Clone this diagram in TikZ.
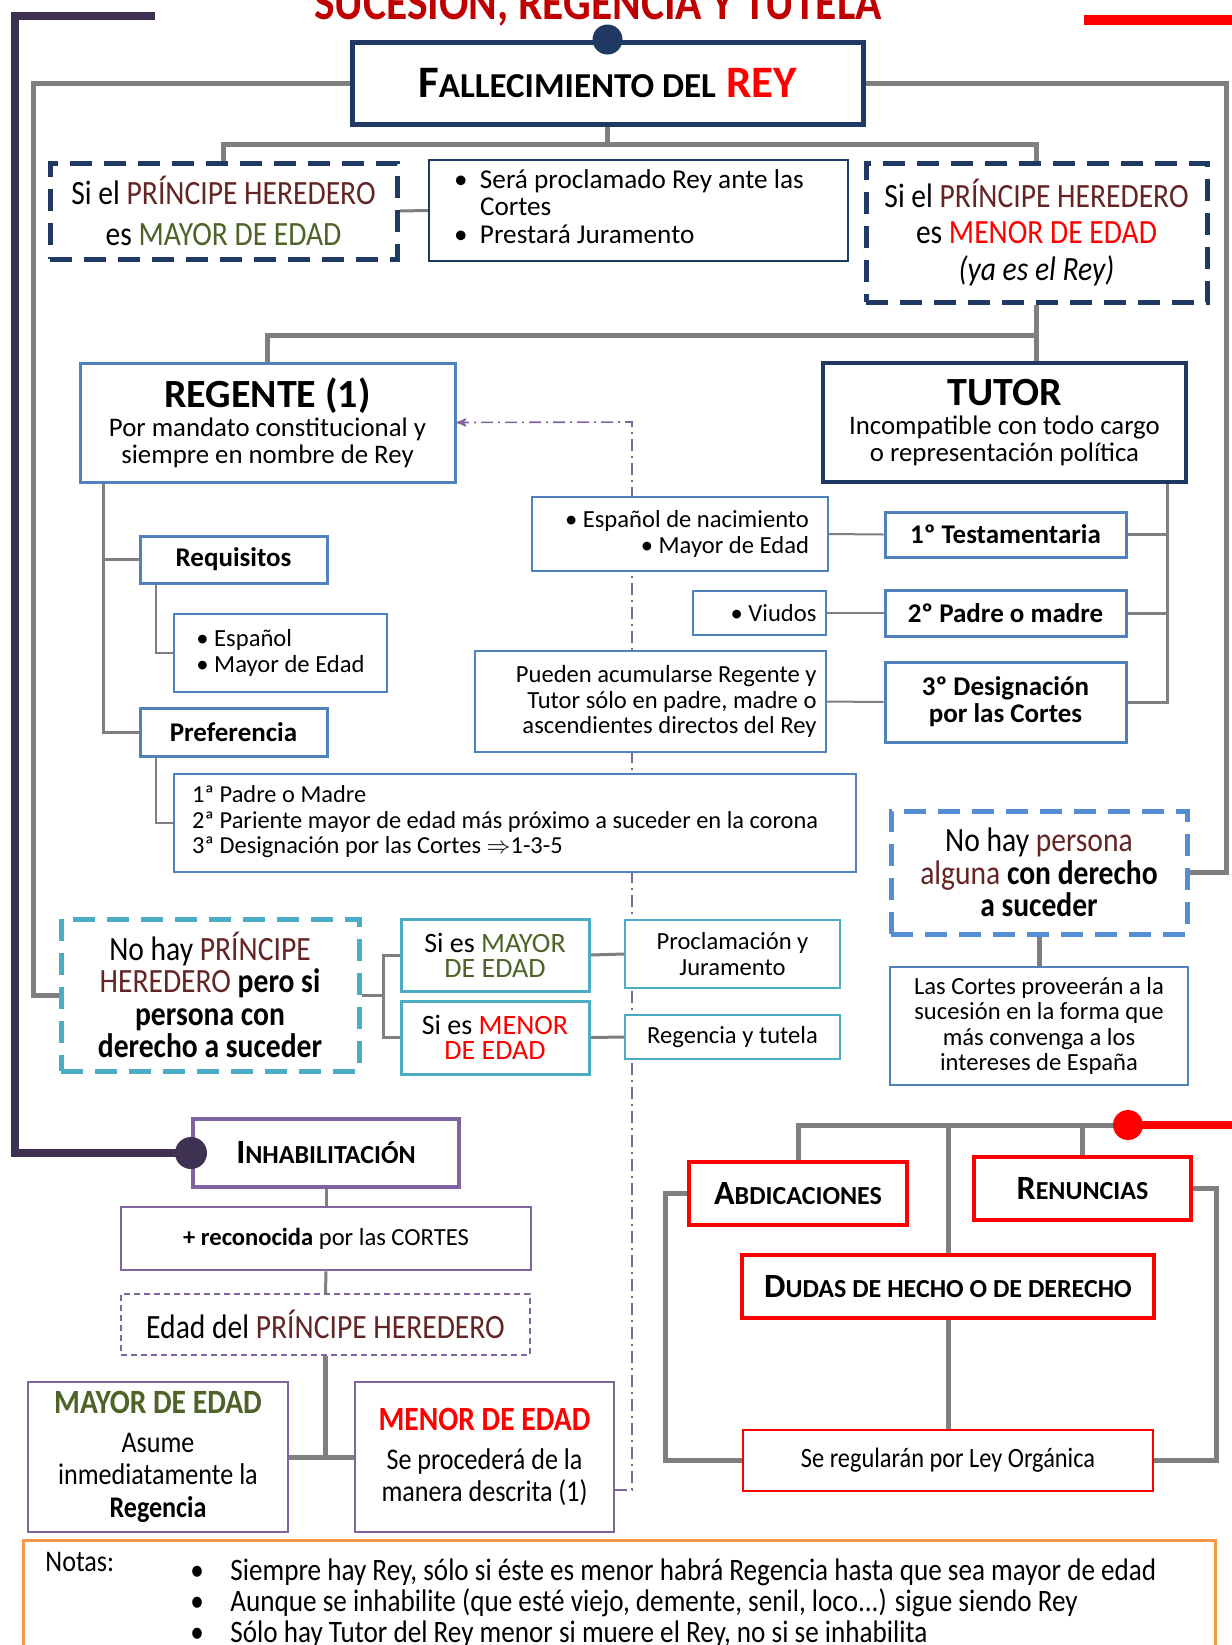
\documentclass[tikz,border=0pt]{standalone}
\usepackage{fontspec}
\setmainfont{Carlito}
\newfontfamily\narrow[FakeStretch=0.87]{Carlito}
\usepackage{xcolor}
\usetikzlibrary{arrows,backgrounds}

\definecolor{navyc}{HTML}{1F3864}
\definecolor{boxblue}{HTML}{4F81BD}
\definecolor{tealc}{HTML}{4BACC6}
\definecolor{heredc}{HTML}{632423}
\definecolor{olivec}{HTML}{4F6228}
\definecolor{purplec}{HTML}{8064A2}
\definecolor{inhcol}{HTML}{3F3151}
\definecolor{greyc}{HTML}{7F7F7F}
\definecolor{orangec}{HTML}{F79646}
\definecolor{dashblue}{HTML}{558ED5}
\definecolor{titlered}{HTML}{C00000}
\definecolor{redc}{HTML}{FF0000}

\newcommand{\smcp}[2]{{\fontsize{#1}{#1}\selectfont #2}}
\newcommand{\princ}{\textcolor{heredc}{PRÍNCIPE HEREDERO}}
\newcommand{\fsmall}{\fontsize{12.3}{12.8}\selectfont}
\newcommand{\fsub}{\fontsize{13.4}{13.2}\selectfont}
\newcommand{\fbold}{\fontsize{13.5}{13.6}\selectfont\bfseries}

\begin{document}
\begin{tikzpicture}[x=0.5pt,y=-0.5pt,>=stealth']
  \tikzstyle{box}=[draw,fill=white,align=center,inner sep=0pt,font=\fsmall]
  \tikzstyle{navydash}=[box,draw=navyc,line width=2.5pt,dash pattern=on 11pt off 6pt]
  \tikzstyle{bluebox}=[box,draw=boxblue,line width=1.5pt]
  \tikzstyle{thinblue}=[box,draw=boxblue,line width=0.8pt]
  \tikzstyle{redbox}=[box,draw=redc,line width=2pt,font=\fontsize{17}{18}\selectfont\bfseries]
  \tikzstyle{gthick}=[draw=greyc,line width=2.5pt]
  \tikzstyle{gmid}=[draw=greyc,line width=1.5pt]
  \tikzstyle{gthin}=[draw=greyc,line width=1pt]
  \tikzset{sz/.style 2 args={minimum width=#1pt,minimum height=#2pt}}

  \useasboundingbox (0,0) rectangle (1232,1645);

  \node[anchor=base,font=\narrow\fontsize{25}{26}\selectfont\bfseries,text=titlered] (titulo) at (598,19) {SUCESIÓN, REGENCIA Y TUTELA};

  \node[box,draw=navyc,line width=2.5pt,sz={255.5}{41},font=\fontsize{22.5}{24}\selectfont\bfseries] (fall) at (607.5,83) {F\smcp{17.5}{ALLECIMIENTO DEL} \textcolor{redc}{REY}};
  \node[navydash,sz={173.5}{48},font=\narrow\fontsize{17}{20.5}\selectfont] (pmayor) at (223.5,211) {Si el \princ\\es \textcolor{olivec}{MAYOR DE EDAD}};
  \node[box,draw=navyc,line width=1pt,sz={209.5}{50.5},align=flush left,text width=184.5pt,font=\fontsize{13.6}{13.6}\selectfont] (jura) at (638.5,210.5) {\begin{tabular}{@{}p{13pt}@{}l@{}}\textbullet & Será proclamado Rey ante las\\ & Cortes\\ \textbullet & Prestará Juramento\end{tabular}};
  \node[navydash,sz={170.5}{69.5},font=\narrow\fontsize{17}{18.4}\selectfont] (pmenor) at (1036.5,232.5) {Si el \princ\\es \textcolor{redc}{MENOR DE EDAD}\\\textit{(ya es el Rey)}};

  \node[bluebox,sz={187.5}{59.5},font=\fsub] (regente) at (267.5,422.5) {{\fontsize{20}{22}\selectfont\bfseries REGENTE (1)}\\[1.5pt]Por mandato constitucional y\\siempre en nombre de Rey};
  \node[box,draw=navyc,line width=2pt,sz={181.5}{59.5},font=\fsub] (tutor) at (1004.5,422.5) {{\fontsize{20}{22}\selectfont\bfseries TUTOR}\\[1.5pt]Incompatible con todo cargo\\o representación política};

  \node[bluebox,sz={93.5}{23.5},font=\fbold] (requis) at (233.5,559.5) {Requisitos};
  \node[thinblue,sz={106.5}{39},align=flush left] (esp) at (280.5,653) {\textbullet\ Español\\\textbullet\ Mayor de Edad};
  \node[bluebox,sz={93.5}{24},font=\fbold] (prefer) at (233.5,732) {Preferencia};
  \node[thinblue,sz={341}{49},align=flush left,text width=323pt,font=\fontsize{12.2}{12.9}\selectfont] (preflist) at (515,823) {\begin{tabular}{@{}l@{}}1ª Padre o Madre\\2ª Pariente mayor de edad más próximo a suceder en la corona\\3ª Designación por las Cortes $\Rightarrow$1-3-5\end{tabular}};

  \node[thinblue,sz={148}{37},align=flush right,text width=129pt] (espnac) at (680,534) {\textbullet\ Español de nacimiento\\\textbullet\ Mayor de Edad};
  \node[thinblue,sz={66.5}{22},align=flush right,text width=57pt] (viudos) at (759.5,613) {\textbullet\ Viudos};
  \node[thinblue,sz={175.5}{50.5},align=flush right,text width=166pt] (pueden) at (650.5,701.5) {Pueden acumularse Regente y\\Tutor sólo en padre, madre o\\ascendientes directos del Rey};
  \node[bluebox,sz={120.5}{22.5},font=\fbold] (testam) at (1005.5,534.5) {1º Testamentaria};
  \node[bluebox,sz={120.5}{23},font=\fbold] (padre) at (1005.5,613) {2º Padre o madre};
  \node[bluebox,sz={120.5}{40},font=\fbold] (desig) at (1005.5,702) {3º Designación\\por las Cortes};

  \node[box,draw=tealc,line width=2.5pt,dash pattern=on 11pt off 6pt,sz={149}{76},font=\narrow\fontsize{17}{16.3}\selectfont] (noprin) at (210,995) {No hay \textcolor{heredc}{PRÍNCIPE}\\\textcolor{heredc}{HEREDERO} \textbf{pero si}\\\textbf{persona con}\\\textbf{derecho a suceder}};
  \node[box,draw=tealc,line width=1.5pt,sz={94}{36},font=\fontsize{14}{12.6}\selectfont] (simayor) at (495,955) {Si es \textcolor{olivec}{MAYOR}\\\textcolor{olivec}{DE EDAD}};
  \node[box,draw=tealc,line width=1.5pt,sz={94}{36.5},font=\fontsize{14}{12.6}\selectfont] (simenor) at (495,1037.5) {Si es \textcolor{redc}{MENOR}\\\textcolor{redc}{DE EDAD}};
  \node[box,draw=tealc,line width=1pt,sz={107.5}{34}] (proclam) at (732.5,954) {Proclamación y\\Juramento};
  \node[box,draw=tealc,line width=1pt,sz={107.5}{22}] (regtut) at (732.5,1037) {Regencia y tutela};

  \node[box,draw=dashblue,line width=2.5pt,dash pattern=on 11pt off 6pt,sz={148}{61.5},font=\narrow\fontsize{17}{16.3}\selectfont] (nopers) at (1039,872.5) {No hay \textcolor{heredc}{persona}\\\textcolor{heredc}{alguna} \textbf{con derecho}\\\textbf{a suceder}};
  \node[thinblue,sz={149}{59}] (cortes) at (1039,1026) {Las Cortes proveerán a la\\sucesión en la forma que\\más convenga a los\\intereses de España};

  \node[box,draw=purplec,line width=2pt,sz={133}{34},font=\fontsize{17}{18}\selectfont\bfseries] (inhab) at (326,1153) {I\smcp{13}{NHABILITACIÓN}};
  \node[box,draw=purplec,line width=1.3pt,sz={205}{31.5}] (recon) at (326,1238.5) {\textbf{+ reconocida} por las CORTES};
  \node[box,draw=purplec,line width=1pt,dash pattern=on 3pt off 2pt,sz={204.5}{30.5},font=\narrow\fontsize{17}{18}\selectfont] (edadp) at (325.5,1324.5) {Edad del \princ};
  \node[box,draw=purplec,line width=1pt,sz={130}{75},font=\narrow\fontsize{15}{16.3}\selectfont] (mayored) at (158,1457) {{\fontsize{17}{18}\selectfont\bfseries\textcolor{olivec}{MAYOR DE EDAD}}\\[3pt]Asume\\inmediatamente la\\\textbf{Regencia}};
  \node[box,draw=purplec,line width=1pt,sz={129.5}{75},font=\narrow\fontsize{15}{16.3}\selectfont] (menored) at (484.5,1457) {{\fontsize{17}{18}\selectfont\bfseries\textcolor{redc}{MENOR DE EDAD}}\\[3pt]Se procederá de la\\manera descrita (1)};

  \node[redbox,sz={109}{31.5}] (abdic) at (798,1193.5) {A\smcp{13}{BDICACIONES}};
  \node[redbox,sz={108.5}{31.5}] (renun) at (1082.5,1188.5) {R\smcp{13}{ENUNCIAS}};
  \node[redbox,sz={206}{31.5}] (dudas) at (948,1286.5) {D\smcp{13}{UDAS DE HECHO O DE DERECHO}};
  \node[box,draw=redc,line width=1pt,sz={205}{30.5},font=\narrow\fontsize{14}{15}\selectfont] (sereg) at (948,1460.5) {Se regularán por Ley Orgánica};

  \node[draw=orangec,line width=1.5pt,sz={596}{60},inner sep=0pt] (notas) at (619,1600) {};
  \node[anchor=north west,inner sep=0pt,font=\narrow\fontsize{15}{15.2}\selectfont] (notastit) at (45,1552) {Notas:};
  \node[anchor=north west,inner sep=0pt,font=\narrow\fontsize{15.6}{14.9}\selectfont] (notaslist) at (190,1558) {\begin{tabular}{@{}p{20pt}@{}l@{}}\textbullet & Siempre hay Rey, sólo si éste es menor habrá Regencia hasta que sea mayor de edad\\\textbullet & Aunque se inhabilite (que esté viejo, demente, senil, loco...) sigue siendo Rey\\\textbullet & Sólo hay Tutor del Rey menor si muere el Rey, no si se inhabilita\end{tabular}};

  \coordinate (lrail) at (33,88);
  \coordinate (rrail) at (1226,88);
  \coordinate (ddtop) at (632,422);
  \coordinate (redhub) at (1128,1125);
  \coordinate (redend) at (1240,1125);
  \coordinate (inhc) at (15,16);
  \coordinate (inhend) at (155,16);
  \coordinate (rt1) at (1084,20);
  \coordinate (rt2) at (1240,20);

  \begin{scope}[on background layer]
    \draw[gthick] (fall.west) -- (fall.west -| lrail) |- (noprin.west);
    \draw[gthick] (fall.east) -- (fall.east -| rrail) |- (nopers.east);
    \draw[gthick] (fall.south) -- ++(0,18) -| (pmayor.north);
    \draw[gthick] (fall.south) ++(0,18) -| (pmenor.north);
    \draw[gmid] (pmayor.east) -- (jura.west);
    \draw[gthick] (pmenor.south) -- (pmenor.south |- tutor.north);
    \draw[gthick] (pmenor.south) ++(0,31) -| (regente.north);

    \draw[gmid] ([xshift=12.5pt]regente.south west) |- (requis.west);
    \draw[gmid] ([xshift=12.5pt]regente.south west) |- (prefer.west);
    \draw[gthin] ([xshift=8.5pt]requis.south west) |- (esp.west);
    \draw[gthin] ([xshift=8.5pt]prefer.south west) |- (preflist.west);

    \draw[gmid] ([xshift=-10.5pt]tutor.south east) |- (testam.east);
    \draw[gmid] ([xshift=-10.5pt]tutor.south east) |- (padre.east);
    \draw[gmid] ([xshift=-10.5pt]tutor.south east) |- (desig.east);
    \draw[gthin] (espnac.east) -- (testam.west);
    \draw[gthin] (viudos.east) -- (padre.west);
    \draw[gthin] (pueden.east) -- (desig.west);

    \draw[gmid] (noprin.east) -- ++(22,0) coordinate (nb);
    \draw[gmid] (simayor.west) -| (nb) |- (simenor.west);
    \draw[gmid] (simayor.east) -- (proclam.west);
    \draw[gmid] (simenor.east) -- (regtut.west);
    \draw[gthick] (nopers.south) -- (cortes.north);

    \draw[gmid] (inhab.south) -- (recon.north);
    \draw[gmid] (recon.south) -- (edadp.north);
    \draw[gthick] (edadp.south) -- (edadp.south |- mayored.east);
    \draw[gthick] (mayored.east) -- (menored.west);

    \draw[gthick] (abdic.north) |- (redhub);
    \draw[gthick] (dudas.north) -- (dudas.north |- redhub);
    \draw[gthick] (renun.north) -- (renun.north |- redhub);
    \draw[gthick] (abdic.west) -- ++(-22,0) |- (sereg.west);
    \draw[gthick] (renun.east) -- ++(23,0) |- (sereg.east);
    \draw[gthick] (dudas.south) -- (sereg.north);

    \draw[purplec,line width=0.8pt,dash pattern=on 6pt off 2.5pt on 1pt off 2.5pt,->] ([yshift=-16.5pt]menored.east) -| (ddtop) -- (regente.east);
  \end{scope}

  \draw[inhcol,line width=4pt] (inhab.west) -| (inhc) -- (inhend);
  \fill[inhcol] (inhab.west) circle (8pt);
  \draw[redc,line width=5pt] (rt1) -- (rt2);
  \draw[redc,line width=4pt] (redhub) -- (redend);
  \fill[redc] (redhub) circle (7.5pt);
  \fill[navyc] (fall.north) circle (7.5pt);
\end{tikzpicture}
\end{document}
